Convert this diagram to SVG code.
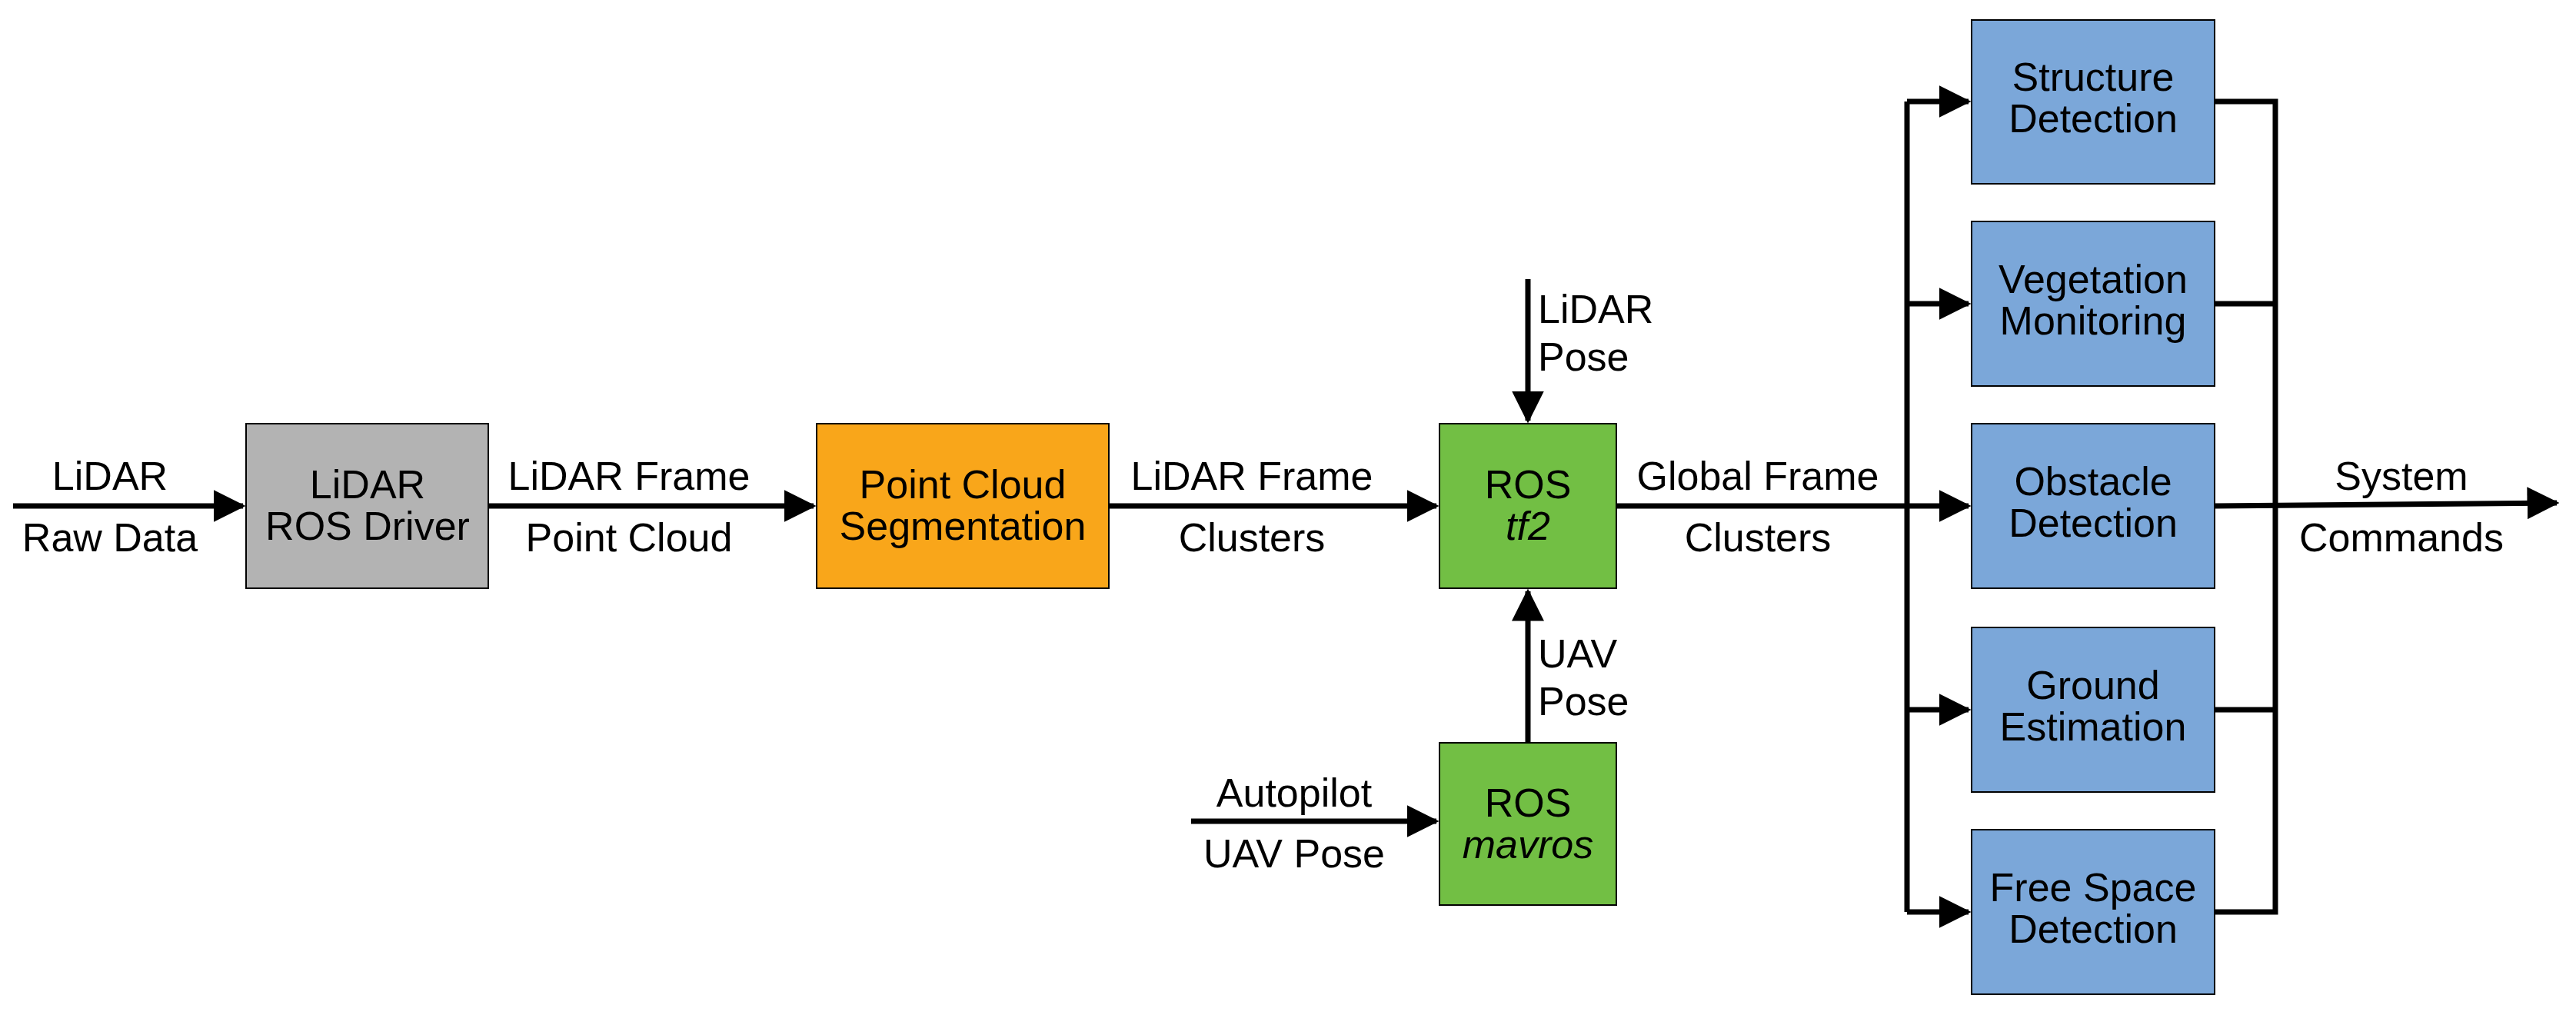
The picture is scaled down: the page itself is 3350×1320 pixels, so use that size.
<svg xmlns="http://www.w3.org/2000/svg" width="3350" height="1320" viewBox="0 0 3350 1320">
<style>
text{font-family:"Liberation Sans",Arial,sans-serif;font-size:52px;fill:#000;text-anchor:middle}
.l{text-anchor:start}
.box{stroke:#000;stroke-width:2}
.c{stroke:#000;stroke-width:7;fill:none}
</style>
<defs>
<marker id="a" markerWidth="6" markerHeight="6" refX="5.5" refY="3" orient="auto" markerUnits="strokeWidth" viewBox="0 0 6 6"><path d="M0,0 L6,3 L0,6 Z" fill="#000"/></marker>
</defs>
<rect width="3350" height="1320" fill="#fff"/>
<g id="connectors">
<line class="c" x1="17" y1="658" x2="316" y2="658" marker-end="url(#a)"/>
<line class="c" x1="635" y1="658" x2="1058" y2="658" marker-end="url(#a)"/>
<line class="c" x1="1442" y1="658" x2="1868" y2="658" marker-end="url(#a)"/>
<line class="c" x1="1987" y1="363" x2="1987" y2="547" marker-end="url(#a)"/>
<line class="c" x1="1987" y1="966" x2="1987" y2="769" marker-end="url(#a)"/>
<line class="c" x1="1549" y1="1068" x2="1868" y2="1068" marker-end="url(#a)"/>
<line class="c" x1="2102" y1="658" x2="2560" y2="658" marker-end="url(#a)"/>
<polyline class="c" points="2480,132 2480,1186"/>
<line class="c" x1="2480" y1="132" x2="2560" y2="132" marker-end="url(#a)"/>
<line class="c" x1="2480" y1="395" x2="2560" y2="395" marker-end="url(#a)"/>
<line class="c" x1="2480" y1="923" x2="2560" y2="923" marker-end="url(#a)"/>
<line class="c" x1="2480" y1="1186" x2="2560" y2="1186" marker-end="url(#a)"/>
<polyline class="c" points="2880,132 2959,132 2959,1186 2880,1186"/>
<line class="c" x1="2880" y1="395" x2="2959" y2="395"/>
<line class="c" x1="2880" y1="923" x2="2959" y2="923"/>
<line class="c" x1="2880" y1="658" x2="3325" y2="654" marker-end="url(#a)"/>
</g>
<g id="labels">
<text x="143" y="637">LiDAR</text><text x="143" y="717">Raw Data</text>
<text x="818" y="637">LiDAR Frame</text><text x="818" y="717">Point Cloud</text>
<text x="1628" y="637">LiDAR Frame</text><text x="1628" y="717">Clusters</text>
<text class="l" x="2000" y="420">LiDAR</text><text class="l" x="2000" y="482">Pose</text>
<text class="l" x="2000" y="868">UAV</text><text class="l" x="2000" y="930">Pose</text>
<text x="1683" y="1049">Autopilot</text><text x="1683" y="1128">UAV Pose</text>
<text x="2286" y="637">Global Frame</text><text x="2286" y="717">Clusters</text>
<text x="3123" y="637">System</text><text x="3123" y="717">Commands</text>
</g>
<g id="driver"><rect class="box" x="320" y="551" width="315" height="214" fill="#b3b3b3"/><text x="478" y="648">LiDAR</text><text x="478" y="702">ROS Driver</text></g>
<g id="seg"><rect class="box" x="1062" y="551" width="380" height="214" fill="#f9a61a"/><text x="1252" y="648">Point Cloud</text><text x="1252" y="702">Segmentation</text></g>
<g id="tf2"><rect class="box" x="1872" y="551" width="230" height="214" fill="#72bf44"/><text x="1987" y="648">ROS</text><text x="1987" y="702" font-style="italic">tf2</text></g>
<g id="mavros"><rect class="box" x="1872" y="966" width="230" height="211" fill="#72bf44"/><text x="1987" y="1062">ROS</text><text x="1987" y="1116" font-style="italic">mavros</text></g>
<g id="structure"><rect class="box" x="2564" y="26" width="316" height="213" fill="#7ba7d9"/><text x="2722" y="118">Structure</text><text x="2722" y="172">Detection</text></g>
<g id="vegetation"><rect class="box" x="2564" y="288" width="316" height="214" fill="#7ba7d9"/><text x="2722" y="381">Vegetation</text><text x="2722" y="435">Monitoring</text></g>
<g id="obstacle"><rect class="box" x="2564" y="551" width="316" height="214" fill="#7ba7d9"/><text x="2722" y="644">Obstacle</text><text x="2722" y="698">Detection</text></g>
<g id="ground"><rect class="box" x="2564" y="816" width="316" height="214" fill="#7ba7d9"/><text x="2722" y="909">Ground</text><text x="2722" y="963">Estimation</text></g>
<g id="freespace"><rect class="box" x="2564" y="1079" width="316" height="214" fill="#7ba7d9"/><text x="2722" y="1172">Free Space</text><text x="2722" y="1226">Detection</text></g>
</svg>
